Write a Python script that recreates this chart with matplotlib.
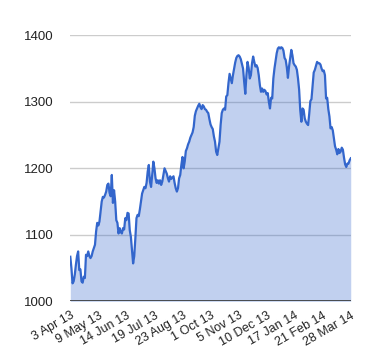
import matplotlib
matplotlib.use("Agg")
import matplotlib.pyplot as plt

# closing values, one per trading day (3 Apr 13 .. 28 Mar 14)
values = [
    1067, 1050, 1027, 1030, 1040, 1055, 1068, 1075, 1047, 1048,
    1030, 1028, 1037, 1035, 1070, 1068, 1075, 1068, 1065, 1068,
    1075, 1080, 1085, 1105, 1118, 1114, 1120, 1135, 1150, 1157,
    1156, 1160, 1165, 1175, 1177, 1163, 1158, 1190, 1148, 1167,
    1150, 1122, 1118, 1102, 1110, 1104, 1102, 1110, 1108, 1125,
    1122, 1133, 1132, 1107, 1097, 1077, 1057, 1068, 1095, 1125,
    1130, 1128, 1138, 1150, 1162, 1167, 1172, 1170, 1178, 1195,
    1205, 1180, 1172, 1190, 1210, 1200, 1185, 1178, 1182, 1177,
    1182, 1175, 1180, 1190, 1200, 1196, 1192, 1185, 1180, 1188,
    1184, 1186, 1188, 1178, 1170, 1165, 1170, 1185, 1190, 1205,
    1217, 1200, 1210, 1226, 1230, 1236, 1240, 1246, 1250, 1254,
    1262, 1279, 1286, 1290, 1294, 1297, 1292, 1289, 1295, 1293,
    1289, 1288, 1285, 1283, 1274, 1266, 1262, 1259, 1248, 1240,
    1225, 1220, 1230, 1240, 1265, 1283, 1288, 1290, 1288, 1308,
    1310, 1328, 1342, 1335, 1328, 1340, 1350, 1359, 1366, 1369,
    1370, 1368, 1364, 1357, 1350, 1330, 1312, 1340, 1360, 1351,
    1335, 1340, 1358, 1368, 1360, 1353, 1355, 1351, 1340, 1325,
    1315, 1320, 1315, 1318, 1316, 1311, 1313, 1300, 1290, 1306,
    1305, 1335, 1350, 1362, 1373, 1380, 1382, 1380, 1382, 1381,
    1377, 1366, 1363, 1352, 1336, 1353, 1365, 1378, 1370, 1358,
    1355, 1353, 1348, 1335, 1318, 1287, 1270, 1290, 1288, 1275,
    1270, 1267, 1265, 1282, 1301, 1304, 1325, 1344, 1348, 1354,
    1360, 1358, 1358, 1356, 1350, 1346, 1347, 1340, 1305, 1306,
    1289, 1278, 1260, 1262, 1257, 1245, 1233, 1228, 1221, 1229,
    1223, 1225, 1231, 1228, 1216, 1206, 1202, 1207, 1207, 1212,
    1215,
]

tick_labels = ["3 Apr 13", "9 May 13", "14 Jun 13", "19 Jul 13", "23 Aug 13",
               "1 Oct 13", "5 Nov 13", "10 Dec 13", "17 Jan 14", "21 Feb 14",
               "28 Mar 14"]
tick_step = 25
y_ticks = [1000, 1100, 1200, 1300, 1400]

plt.rcParams["font.family"] = ["Liberation Sans", "DejaVu Sans"]

fig = plt.figure(figsize=(3.8, 3.6), dpi=100)
ax = fig.add_axes([0.185, 0.163, 0.738, 0.739])

xs = list(range(len(values)))
ax.fill_between(xs, 1000, values, color="#3366cc", alpha=0.3, linewidth=0, zorder=2)
ax.plot(xs, values, color="#3366cc", linewidth=1.6, zorder=3)

for yv in y_ticks[1:]:
    ax.axhline(yv, color="#cccccc", linewidth=1, zorder=1)
ax.axhline(1000, color="#333333", linewidth=1.2, zorder=4)

ax.set_xlim(0, len(values) - 1)
ax.set_ylim(1000, 1400)
ax.set_yticks(y_ticks)
ax.set_yticklabels([str(v) for v in y_ticks], color="#222222", fontsize=9.5)
ax.set_xticks(range(0, len(values), tick_step))
ax.set_xticklabels(tick_labels, rotation=30, ha="right", rotation_mode="anchor",
                   color="#222222", fontsize=9)
ax.tick_params(axis="both", length=0)
ax.tick_params(axis="y", pad=12)
ax.tick_params(axis="x", pad=6)

for s in ax.spines.values():
    s.set_visible(False)

fig.savefig("out.png", dpi=100)
